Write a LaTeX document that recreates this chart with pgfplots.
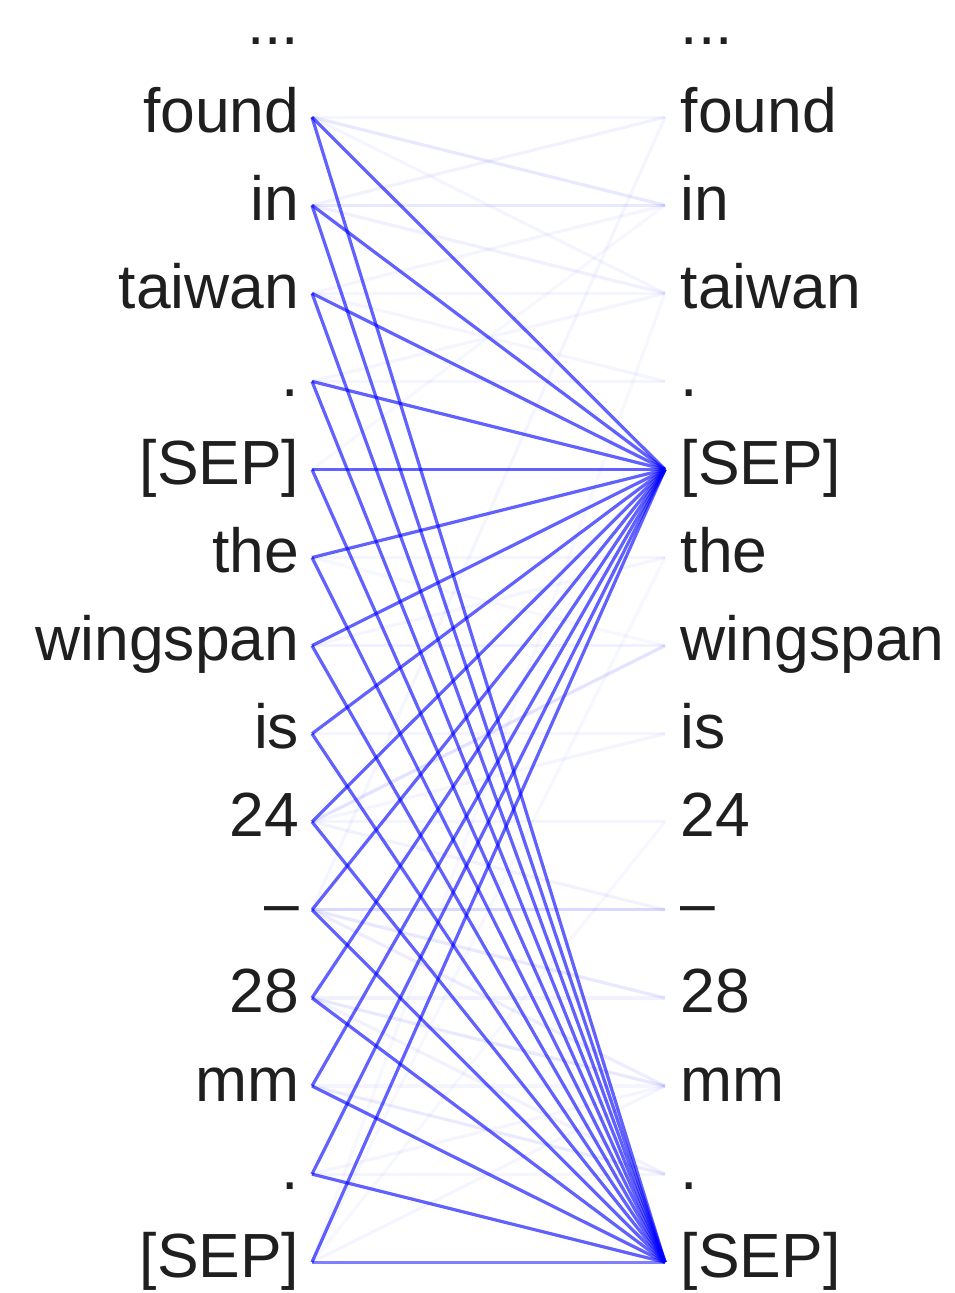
\documentclass[border=0pt]{standalone}
\usepackage{fontspec}
\setmainfont{Liberation Sans}
\usepackage{pgfplots}
\pgfplotsset{compat=1.18}

\tikzset{
    strong/.style={blue, opacity=0.62, line width=0.8pt},
    faint/.style={blue, opacity=#1, line width=0.8pt},
    tok/.style={font=\fontsize{15.6}{18}\selectfont, text=black!88, inner sep=0pt, yshift=-1.1pt},
}

\begin{document}
\begin{tikzpicture}
\begin{axis}[
    hide axis,
    scale only axis,
    clip=false,
    x=0.25pt, y=22.02pt,
    xmin=0, xmax=954,
    ymin=-0.33, ymax=14.35,
    y dir=reverse,
    at={(0,0)}, anchor=north west,
]
% strong attention: every token -> [SEP] (row 5) and [SEP] (row 14)
\addplot[strong] coordinates {(312,1) (665,5)};
\addplot[strong] coordinates {(312,1) (665,14)};
\addplot[strong] coordinates {(312,2) (665,5)};
\addplot[strong] coordinates {(312,2) (665,14)};
\addplot[strong] coordinates {(312,3) (665,5)};
\addplot[strong] coordinates {(312,3) (665,14)};
\addplot[strong] coordinates {(312,4) (665,5)};
\addplot[strong] coordinates {(312,4) (665,14)};
\addplot[strong] coordinates {(312,5) (665,5)};
\addplot[strong] coordinates {(312,5) (665,14)};
\addplot[strong] coordinates {(312,6) (665,5)};
\addplot[strong] coordinates {(312,6) (665,14)};
\addplot[strong] coordinates {(312,7) (665,5)};
\addplot[strong] coordinates {(312,7) (665,14)};
\addplot[strong] coordinates {(312,8) (665,5)};
\addplot[strong] coordinates {(312,8) (665,14)};
\addplot[strong] coordinates {(312,9) (665,5)};
\addplot[strong] coordinates {(312,9) (665,14)};
\addplot[strong] coordinates {(312,10) (665,5)};
\addplot[strong] coordinates {(312,10) (665,14)};
\addplot[strong] coordinates {(312,11) (665,5)};
\addplot[strong] coordinates {(312,11) (665,14)};
\addplot[strong] coordinates {(312,12) (665,5)};
\addplot[strong] coordinates {(312,12) (665,14)};
\addplot[strong] coordinates {(312,13) (665,5)};
\addplot[strong] coordinates {(312,13) (665,14)};
\addplot[strong] coordinates {(312,14) (665,5)};
\addplot[faint=0.5] coordinates {(312,14) (665,14)};
% weak attention
\addplot[faint=0.04] coordinates {(312,1) (665,1)};
\addplot[faint=0.09] coordinates {(312,1) (665,2)};
\addplot[faint=0.04] coordinates {(312,1) (665,3)};
\addplot[faint=0.05] coordinates {(312,2) (665,1)};
\addplot[faint=0.09] coordinates {(312,2) (665,2)};
\addplot[faint=0.06] coordinates {(312,2) (665,3)};
\addplot[faint=0.04] coordinates {(312,3) (665,2)};
\addplot[faint=0.04] coordinates {(312,3) (665,3)};
\addplot[faint=0.04] coordinates {(312,3) (665,4)};
\addplot[faint=0.04] coordinates {(312,4) (665,3)};
\addplot[faint=0.04] coordinates {(312,4) (665,4)};
\addplot[faint=0.03] coordinates {(312,5) (665,2)};
\addplot[faint=0.04] coordinates {(312,6) (665,6)};
\addplot[faint=0.03] coordinates {(312,6) (665,7)};
\addplot[faint=0.04] coordinates {(312,7) (665,6)};
\addplot[faint=0.05] coordinates {(312,7) (665,7)};
\addplot[faint=0.04] coordinates {(312,8) (665,8)};
\addplot[faint=0.11] coordinates {(312,9) (665,7)};
\addplot[faint=0.04] coordinates {(312,9) (665,8)};
\addplot[faint=0.04] coordinates {(312,9) (665,9)};
\addplot[faint=0.05] coordinates {(312,9) (665,10)};
\addplot[faint=0.04] coordinates {(312,10) (665,1)};
\addplot[faint=0.15] coordinates {(312,10) (665,10)};
\addplot[faint=0.09] coordinates {(312,10) (665,11)};
\addplot[faint=0.07] coordinates {(312,10) (665,12)};
\addplot[faint=0.05] coordinates {(312,11) (665,11)};
\addplot[faint=0.09] coordinates {(312,11) (665,12)};
\addplot[faint=0.05] coordinates {(312,11) (665,13)};
\addplot[faint=0.04] coordinates {(312,12) (665,12)};
\addplot[faint=0.08] coordinates {(312,12) (665,13)};
\addplot[faint=0.04] coordinates {(312,13) (665,12)};
\addplot[faint=0.04] coordinates {(312,13) (665,13)};
\addplot[faint=0.03] coordinates {(312,14) (665,3)};
\addplot[faint=0.03] coordinates {(312,14) (665,6)};
\addplot[faint=0.03] coordinates {(312,14) (665,9)};
\addplot[faint=0.04] coordinates {(312,14) (665,12)};
% token labels
\node[tok, anchor=mid east] at (axis cs:300,0) {...};
\node[tok, anchor=mid east] at (axis cs:300,1) {found};
\node[tok, anchor=mid east] at (axis cs:300,2) {in};
\node[tok, anchor=mid east] at (axis cs:300,3) {taiwan};
\node[tok, anchor=mid east] at (axis cs:300,4) {.};
\node[tok, anchor=mid east] at (axis cs:300,5) {[SEP]};
\node[tok, anchor=mid east] at (axis cs:300,6) {the};
\node[tok, anchor=mid east] at (axis cs:300,7) {wingspan};
\node[tok, anchor=mid east] at (axis cs:300,8) {is};
\node[tok, anchor=mid east] at (axis cs:300,9) {24};
\node[tok, anchor=mid east] at (axis cs:300,10) {–};
\node[tok, anchor=mid east] at (axis cs:300,11) {28};
\node[tok, anchor=mid east] at (axis cs:300,12) {mm};
\node[tok, anchor=mid east] at (axis cs:300,13) {.};
\node[tok, anchor=mid east] at (axis cs:300,14) {[SEP]};
\node[tok, anchor=mid west] at (axis cs:680,0) {...};
\node[tok, anchor=mid west] at (axis cs:680,1) {found};
\node[tok, anchor=mid west] at (axis cs:680,2) {in};
\node[tok, anchor=mid west] at (axis cs:680,3) {taiwan};
\node[tok, anchor=mid west] at (axis cs:680,4) {.};
\node[tok, anchor=mid west] at (axis cs:680,5) {[SEP]};
\node[tok, anchor=mid west] at (axis cs:680,6) {the};
\node[tok, anchor=mid west] at (axis cs:680,7) {wingspan};
\node[tok, anchor=mid west] at (axis cs:680,8) {is};
\node[tok, anchor=mid west] at (axis cs:680,9) {24};
\node[tok, anchor=mid west] at (axis cs:680,10) {–};
\node[tok, anchor=mid west] at (axis cs:680,11) {28};
\node[tok, anchor=mid west] at (axis cs:680,12) {mm};
\node[tok, anchor=mid west] at (axis cs:680,13) {.};
\node[tok, anchor=mid west] at (axis cs:680,14) {[SEP]};
\end{axis}
\pgfresetboundingbox
\path[use as bounding box] (0,0) rectangle (238.5pt,-323.25pt);
\end{tikzpicture}
\end{document}
